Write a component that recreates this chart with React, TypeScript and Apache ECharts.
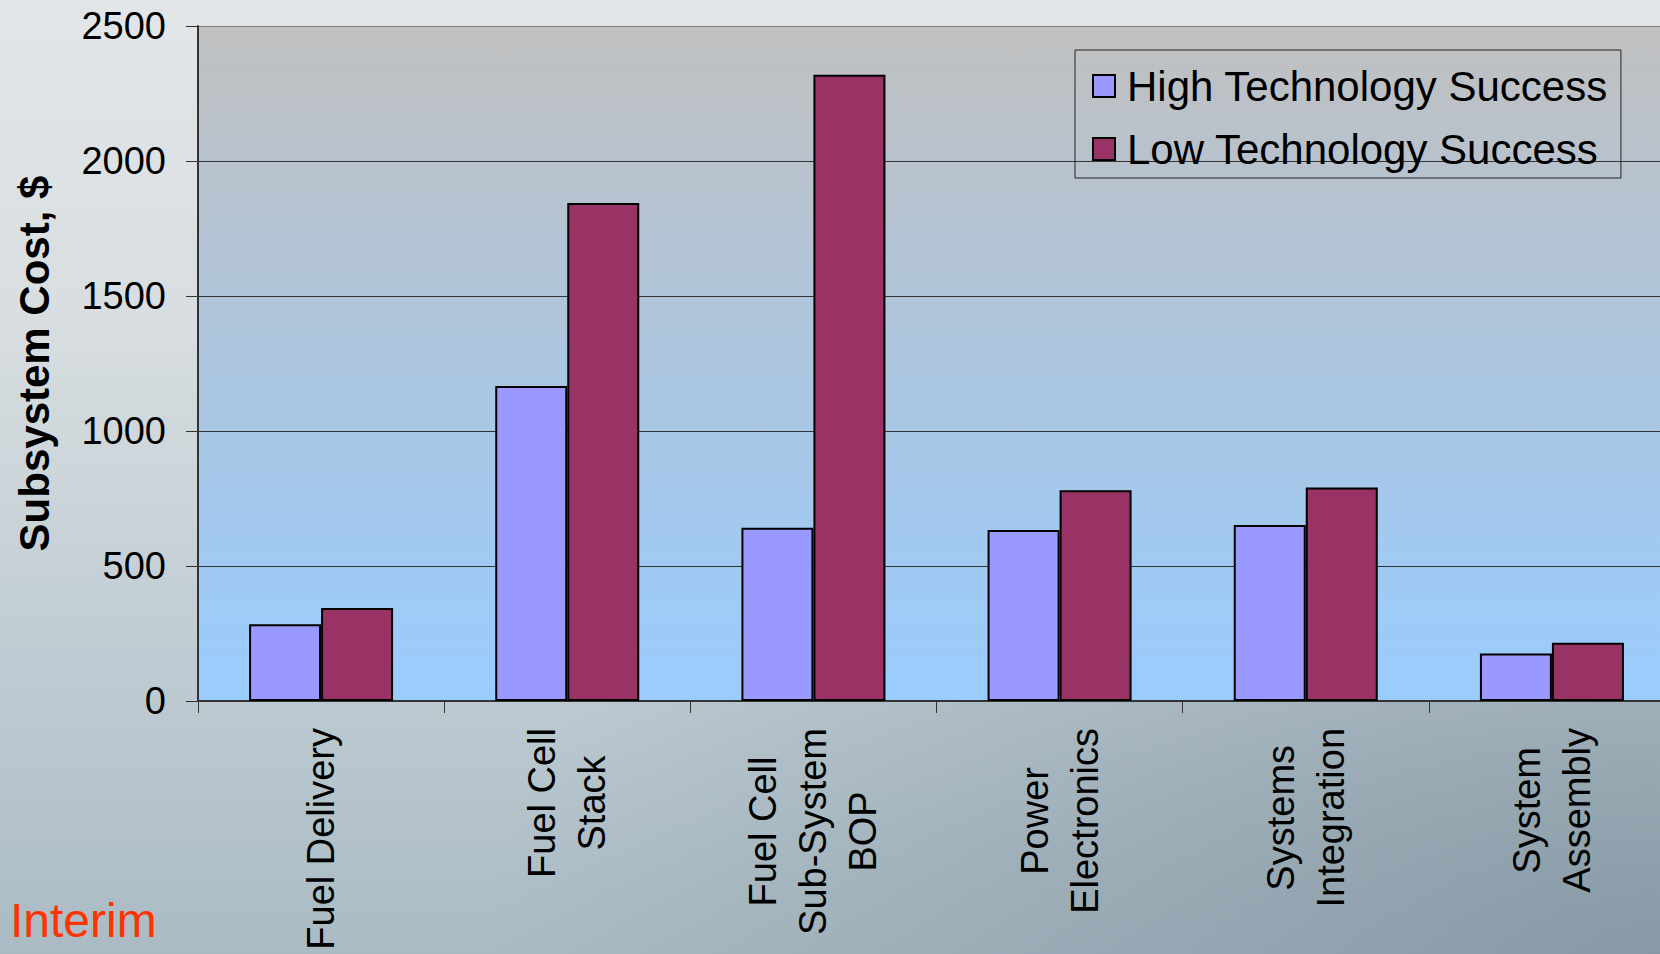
import React, { useEffect, useRef } from "react";
import * as echarts from "echarts";

const categories = [
  "Fuel Delivery",
  "Fuel Cell\nStack",
  "Fuel Cell\nSub-System\nBOP",
  "Power\nElectronics",
  "Systems\nIntegration",
  "System\nAssembly",
];
const highTech = [284, 1167, 642, 633, 652, 176];
const lowTech = [344, 1844, 2319, 781, 791, 216];
const seriesNames = ["High Technology Success", "Low Technology Success"];
const yTicks = { min: 0, max: 2500, interval: 500 };
const yTitle = "Subsystem Cost, $";
const noteText = "Interim";

const FONT = '"Liberation Sans", Arial, Helvetica, sans-serif';

export default function App() {
  const ref = useRef<HTMLDivElement>(null);
  useEffect(() => {
    if (!ref.current) return;
    const chart = echarts.init(ref.current, undefined, { renderer: "svg" });
    chart.setOption({
      animation: false,
      textStyle: { fontFamily: FONT },
      grid: {
        left: 198,
        top: 26,
        width: 1477,
        height: 675,
        containLabel: false,
        outerBoundsMode: "none",
        show: true,
        borderWidth: 0,
        backgroundColor: new echarts.graphic.LinearGradient(0, 0, 0, 1, [
          { offset: 0, color: "#c0c0c0" },
          { offset: 1, color: "#99ccff" },
        ]),
      },
      legend: {
        orient: "vertical",
        left: 1075,
        top: 50,
        padding: [14, 13, 7, 17],
        borderColor: "#222",
        borderWidth: 1,
        backgroundColor: "transparent",
        itemWidth: 22,
        itemHeight: 22,
        itemGap: 19,
        icon: "rect",
        textStyle: {
          fontFamily: FONT,
          fontSize: 42,
          lineHeight: 44,
          color: "#000",
          padding: [0, 0, 0, 7],
        },
        data: seriesNames,
      },
      xAxis: {
        type: "category",
        data: categories,
        axisLine: { show: true, lineStyle: { color: "#333", width: 2 } },
        axisTick: { show: true, length: 12, lineStyle: { color: "#333", width: 1 } },
        splitLine: { show: false },
        axisLabel: {
          rotate: 90,
          margin: 27,
          interval: 0,
          color: "#000",
          fontFamily: FONT,
          fontSize: 38,
          lineHeight: 50,
          formatter: (v: string) =>
            v
              .split("\n")
              .map((s) => `{c|${s}}`)
              .join("\n"),
          rich: {
            c: {
              align: "center",
              fontFamily: FONT,
              fontSize: 38,
              lineHeight: 50,
              color: "#000",
            },
          },
        },
      },
      yAxis: {
        type: "value",
        min: yTicks.min,
        max: yTicks.max,
        interval: yTicks.interval,
        name: yTitle,
        nameLocation: "middle",
        nameGap: 143,
        nameTextStyle: {
          fontFamily: FONT,
          fontSize: 42,
          fontWeight: "bold",
          color: "#000",
        },
        axisLine: { show: true, lineStyle: { color: "#333", width: 2 } },
        axisTick: { show: true, length: 12, lineStyle: { color: "#333", width: 1 } },
        splitLine: {
          show: true,
          lineStyle: {
            color: ["#333", "#333", "#333", "#333", "#333", "#808080"],
            width: 1,
          },
        },
        axisLabel: {
          margin: 32,
          color: "#000",
          fontFamily: FONT,
          fontSize: 38,
          formatter: (v: number) => String(v),
        },
      },
      series: [
        {
          name: seriesNames[0],
          type: "bar",
          data: highTech,
          barWidth: 72,
          barGap: "0%",
          itemStyle: { color: "#9999ff", borderColor: "#000", borderWidth: 2 },
        },
        {
          name: seriesNames[1],
          type: "bar",
          data: lowTech,
          barWidth: 72,
          barGap: "0%",
          itemStyle: { color: "#993366", borderColor: "#000", borderWidth: 2 },
        },
      ],
      graphic: [
        {
          type: "text",
          left: 10,
          top: 896,
          style: {
            text: noteText,
            fill: "#ff3300",
            font: `48px ${FONT}`,
          },
        },
      ],
    });
    return () => chart.dispose();
  }, []);
  return (
    <div
      ref={ref}
      style={{
        position: "fixed",
        left: 0,
        top: 0,
        width: 1660,
        height: 954,
        background:
          "radial-gradient(ellipse at 100% 100%, rgba(105,125,140,0.55) 0%, rgba(105,125,140,0) 50%), linear-gradient(180deg, #e3e6e8 0%, #d7dde0 35%, #c0ccd3 68%, #aabbc4 100%)",
      }}
    />
  );
}
